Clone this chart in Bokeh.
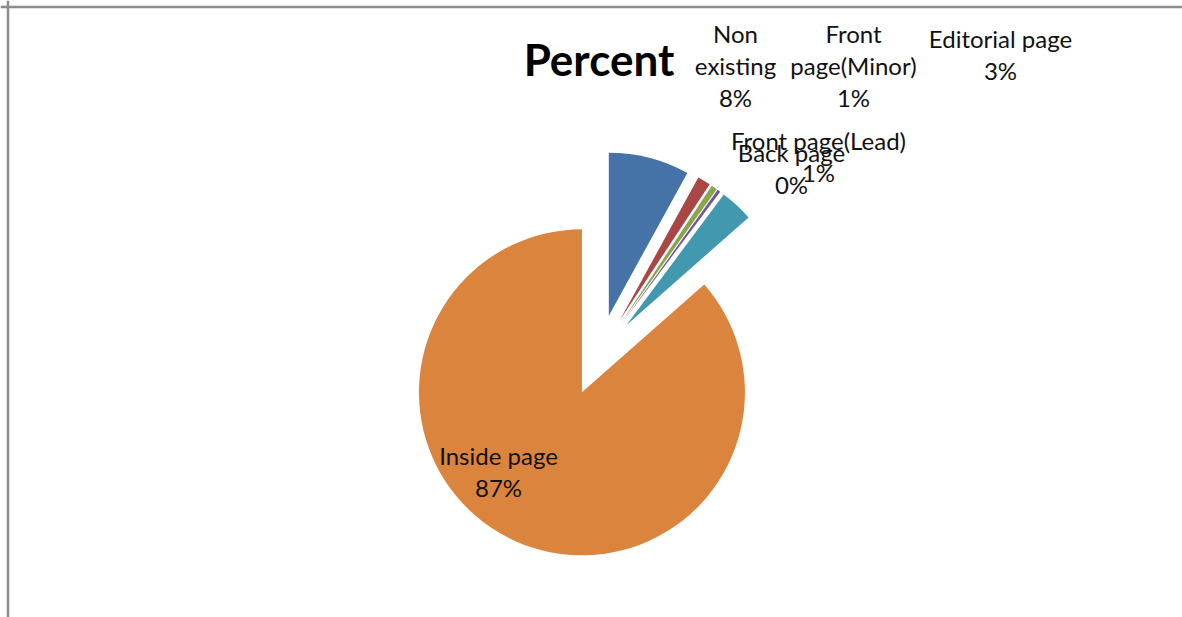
import math
from bokeh.plotting import figure
from bokeh.models import Span, ColumnDataSource
from bokeh.core.properties import value
from bokeh.embed import file_html
from bokeh.resources import INLINE

# ---- data ----
categories = ["Non existing", "Front page(Minor)", "Front page(Lead)",
              "Back page", "Editorial page", "Inside page"]
label_names = ["Non\nexisting", "Front\npage(Minor)", "Front page(Lead)",
               "Back page", "Editorial page", "Inside page"]
percents = [8.0, 1.3, 0.6, 0.3, 3.3, 86.5]
colors = ["#4572A7", "#AA4643", "#89A54E", "#71588F", "#4198AF", "#DB843D"]
title_text = "Percent"

# ---- layout (screen px inside the figure) ----
W, H = 1182, 617
def sx(x):  # page x -> data x
    return x
def sy(y):  # page y -> data y
    return H - y

cx, cy = sx(598.2), sy(354.7)
R = 163.0
explode = 0.25 * R
label_pos = [(735, 65), (853, 65), (818, 156), (791, 168), (1000, 54), (498, 471)]

p = figure(width=W, height=H, x_range=(0, W), y_range=(0, H),
           output_backend="svg", toolbar_location=None,
           x_axis_location=None, y_axis_location=None,
           min_border=0, outline_line_color=None,
           background_fill_color="white", border_fill_color="white")
p.grid.visible = False

total = sum(percents)
xs, ys, starts, ends = [], [], [], []
cum = 0.0
for v in percents:
    a1 = cum / total * 2 * math.pi          # clockwise from top
    a2 = (cum + v) / total * 2 * math.pi
    mid = (a1 + a2) / 2
    xs.append(cx + explode * math.sin(mid))
    ys.append(cy + explode * math.cos(mid))
    starts.append(math.pi / 2 - a2)
    ends.append(math.pi / 2 - a1)
    cum += v

src = ColumnDataSource(dict(x=xs, y=ys, start=starts, end=ends, color=colors,
                            cat=categories))
p.wedge(x="x", y="y", radius=R, start_angle="start", end_angle="end",
        direction="anticlock", fill_color="color", line_color=None, source=src)

texts = [f"{n}\n{int(v + 0.5)}%" for n, v in zip(label_names, percents)]
lsrc = ColumnDataSource(dict(x=[sx(a) for a, b in label_pos],
                             y=[sy(b) for a, b in label_pos], t=texts))
p.text(x="x", y="y", text="t", source=lsrc, text_align="center",
       text_baseline="middle", text_font=value("Lato"), text_font_size="24px",
       text_line_height=1.09, text_color="#111111")

p.text(x=[sx(598.5)], y=[sy(58)], text=[title_text], text_align="center",
       text_baseline="middle", text_font=value("Lato"), text_font_size="44px",
       text_font_style="bold", text_color="#000000")

p.add_layout(Span(location=sy(6.5), dimension="width", line_color="#8c8c8c", line_width=2.5))
p.add_layout(Span(location=sx(7.5), dimension="height", line_color="#8c8c8c", line_width=2.5))

open("out.html", "w").write(file_html(p, INLINE))
